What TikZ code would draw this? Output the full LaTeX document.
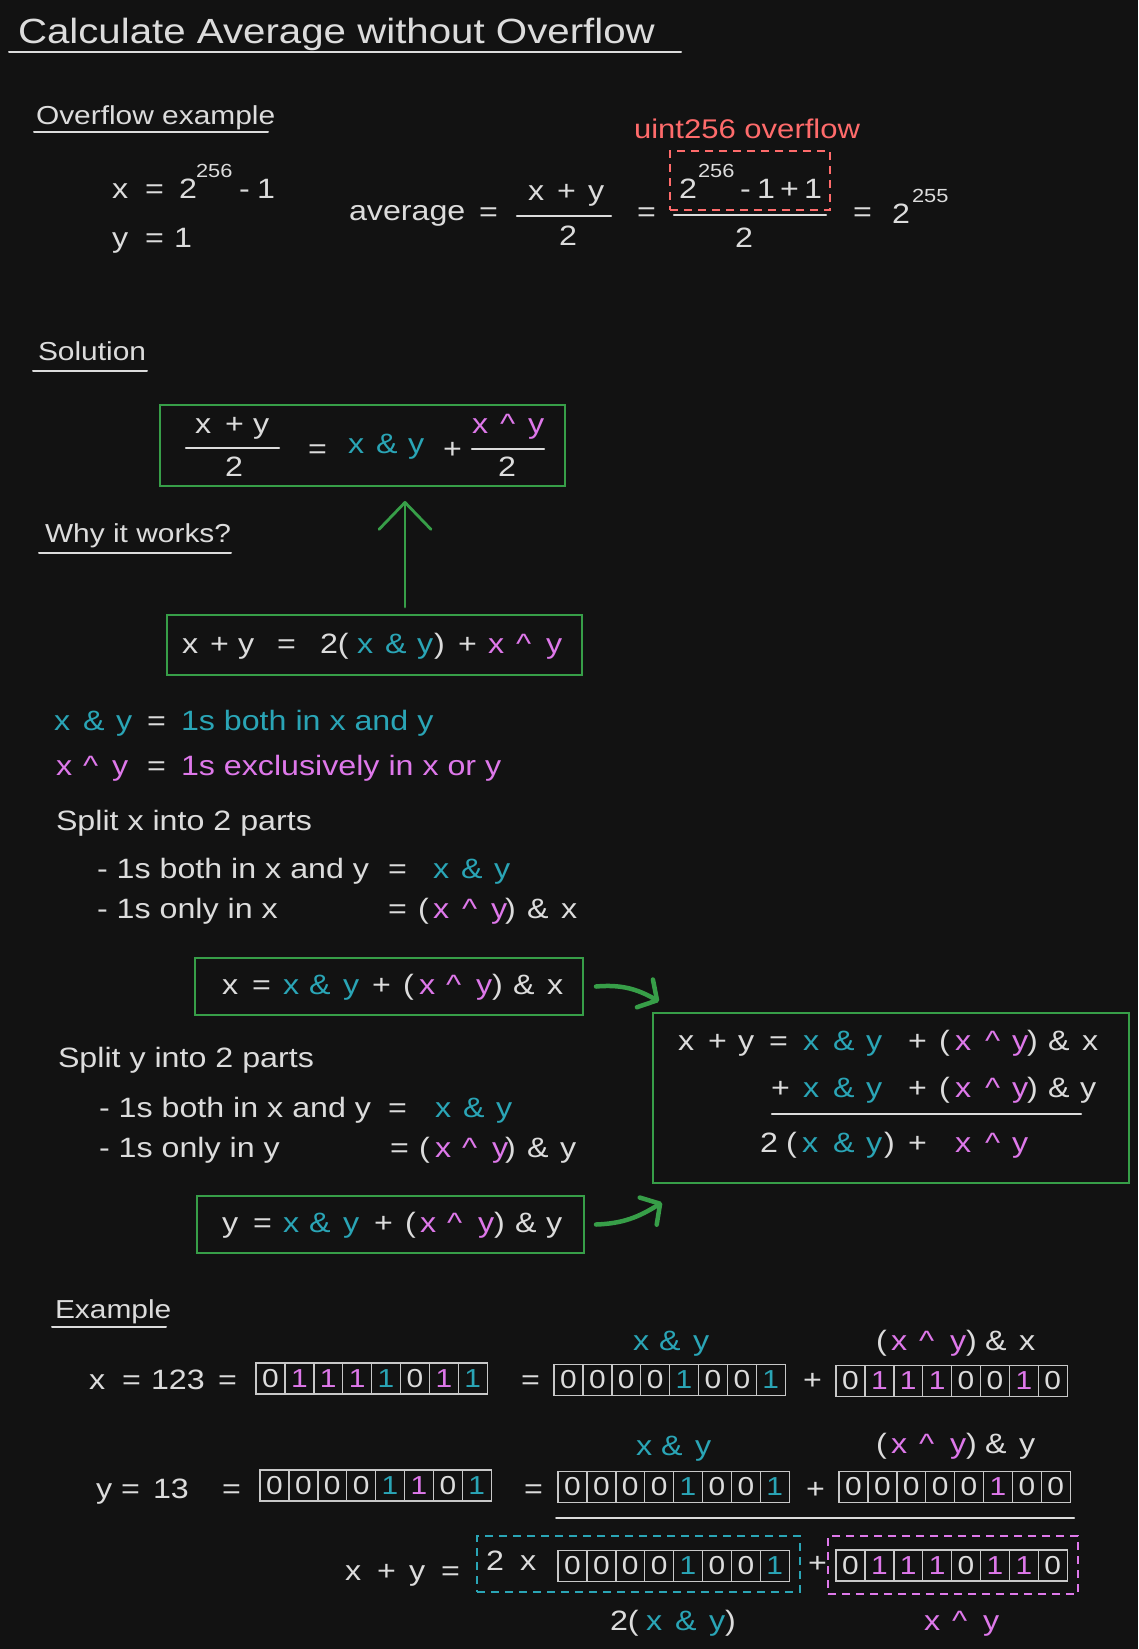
\documentclass[tikz,border=0pt]{standalone}
\usepackage{fontspec}
\setmainfont{Liberation Sans}[FakeStretch=1.15]
\usetikzlibrary{arrows.meta}

\definecolor{bg}{HTML}{121212}
\definecolor{fg}{HTML}{DCDCDC}
\definecolor{cy}{HTML}{2AA5B6}
\definecolor{pk}{HTML}{DE78EA}
\definecolor{rd}{HTML}{FF6B6B}
\definecolor{gn}{HTML}{379E48}
\definecolor{cellc}{HTML}{C8C8C8}

\newcommand{\fsz}[1]{\fontsize{#1}{#1}\selectfont}
\newcommand{\tpc}[5]{\node[#1] (#2) at (#3,#4) {#5};}
\newcommand{\xo}{\textasciicircum}
% one row of eight bit cells: name, left x, centre y, list digit/colour
\newcommand{\bitrow}[4]{%
  \foreach \b/\cc [count=\i] in {#4} {
    \node[cell, text=\cc] (#1-\i) at ({#2+(\i-0.5)*28.9},#3) {\b};
  }}

\tikzset{
  wtx/.style={anchor=base west, inner sep=0pt, outer sep=0pt, text=fg, font=\fsz{28}},
  ctx/.style={wtx, text=cy},
  ptx/.style={wtx, text=pk},
  sup/.style={wtx, font=\fsz{19}},
  head/.style={wtx, font=\fsz{26}},
  rule/.style={draw=fg, line width=2pt, line cap=round},
  bar/.style={draw=fg, line width=2.2pt, line cap=round},
  gbox/.style={draw=gn, line width=2pt, inner sep=0pt},
  rdash/.style={draw=rd, line width=2pt, dash pattern=on 8pt off 6pt, inner sep=0pt},
  cdash/.style={draw=cy, line width=2pt, dash pattern=on 8pt off 6pt, inner sep=0pt},
  pdash/.style={draw=pk, line width=2pt, dash pattern=on 8pt off 6pt, inner sep=0pt},
  cell/.style={draw=cellc, line width=1.4pt, minimum width=28.9pt, minimum height=31pt,
    inner sep=0pt, font=\fsz{26}},
  garrowv/.style={draw=gn, line width=2.8pt, line cap=round,
    -{Straight Barb[round, length=27pt, width=52pt]}},
  garc/.style={draw=gn, line width=4.5pt, line cap=round,
    -{Straight Barb[round, length=14pt, width=32pt]}},
}

\begin{document}
\begin{tikzpicture}[x=1pt, y=-1pt]
\fill[bg] (0,0) rectangle (1138,1649);
\useasboundingbox (0,0) rectangle (1138,1649);

% title
\tpc{wtx, font=\fsz{35}}{title}{18}{43}{Calculate Average without Overflow}
\draw[rule] (9,52) -- (681,52);

% overflow example
\tpc{head}{hOv}{36}{124}{Overflow example}
\draw[rule] (34,132) -- (268,132);
\tpc{wtx}{ovx}{112}{198}{x}
\tpc{wtx}{ovxeq}{145}{198}{=}
\tpc{wtx}{ovxtwo}{179}{198}{2}
\tpc{sup}{ovxexp}{196}{177}{256}
\tpc{wtx}{ovxmin}{239}{198}{-}
\tpc{wtx}{ovxone}{257}{198}{1}
\tpc{wtx}{ovy}{112}{247}{y}
\tpc{wtx}{ovyeq}{145}{247}{=}
\tpc{wtx}{ovyone}{174}{247}{1}

\tpc{wtx}{avg}{349}{220}{average}
\tpc{wtx}{avgeqA}{479}{221}{=}
\tpc{wtx}{fAx}{528}{200}{x}
\tpc{wtx}{fAplus}{557}{200}{+}
\tpc{wtx}{fAy}{588}{200}{y}
\draw[bar] (517,216) -- (611,216);
\tpc{wtx}{fAtwo}{559}{245}{2}
\tpc{wtx}{avgeqB}{637}{221}{=}
\node[rdash, minimum width=160pt, minimum height=59pt] (ovbox) at (750,180.5) {};
\tpc{wtx, text=rd, font=\fsz{27}}{ovlabel}{634}{138}{uint256 overflow}
\tpc{wtx}{fBtwo}{679}{198}{2}
\tpc{sup}{fBexp}{698}{177}{256}
\tpc{wtx}{fBmin}{740}{198}{-}
\tpc{wtx}{fBone}{757}{198}{1}
\tpc{wtx}{fBplus}{780}{198}{+}
\tpc{wtx}{fBoneB}{804}{198}{1}
\draw[bar] (674,215) -- (826,215);
\tpc{wtx}{fBden}{735}{247}{2}
\tpc{wtx}{avgeqC}{853}{221}{=}
\tpc{wtx}{resTwo}{892}{223}{2}
\tpc{sup}{resExp}{912}{202}{255}

% solution
\tpc{head}{hSol}{38}{360}{Solution}
\draw[rule] (33,371) -- (147,371);
\node[gbox, minimum width=405pt, minimum height=81pt] (sol) at (362.5,445.5) {};
\tpc{wtx}{sNx}{195}{433}{x}
\tpc{wtx}{sNplus}{225}{433}{+}
\tpc{wtx}{sNy}{253}{433}{y}
\draw[bar] (186,448) -- (279,448);
\tpc{wtx}{sNtwo}{225}{476}{2}
\tpc{wtx}{sEq}{308}{458}{=}
\tpc{ctx}{sAx}{348}{453}{x}
\tpc{ctx}{sAamp}{376}{453}{\&}
\tpc{ctx}{sAy}{408}{453}{y}
\tpc{wtx}{sPlus}{443}{458}{+}
\tpc{ptx}{sXx}{472}{433}{x}
\tpc{ptx}{sXc}{500}{433}{\xo}
\tpc{ptx}{sXy}{528}{433}{y}
\draw[bar] (472,449) -- (544,449);
\tpc{wtx}{sXtwo}{498}{476}{2}

% why it works
\tpc{head}{hWhy}{45}{542}{Why it works?}
\draw[rule] (39,553) -- (231,553);
\node[gbox, minimum width=415pt, minimum height=60pt] (xy) at (374.5,645) {};
\tpc{wtx}{qx}{182}{653}{x}
\tpc{wtx}{qplus}{210}{653}{+}
\tpc{wtx}{qy}{238}{653}{y}
\tpc{wtx}{qeq}{277}{653}{=}
\tpc{wtx}{qtwo}{320}{653}{2(}
\tpc{ctx}{qax}{357}{653}{x}
\tpc{ctx}{qaamp}{385}{653}{\&}
\tpc{ctx}{qay}{417}{653}{y}
\tpc{wtx}{qrp}{434}{653}{)}
\tpc{wtx}{qplusB}{458}{653}{+}
\tpc{ptx}{qxx}{488}{653}{x}
\tpc{ptx}{qxc}{516}{653}{\xo}
\tpc{ptx}{qxy}{546}{653}{y}
\draw[garrowv, shorten <=7pt, shorten >=14pt] ([xshift=30.5pt]xy.north) -- ([xshift=42.5pt]sol.south);

% meaning of the two operators
\tpc{ctx}{dAx}{54}{730}{x}
\tpc{ctx}{dAamp}{83}{730}{\&}
\tpc{ctx}{dAy}{116}{730}{y}
\tpc{wtx}{dAeq}{147}{730}{=}
\tpc{ctx}{dAtxt}{181}{730}{1s both in x and y}
\tpc{ptx}{dXx}{56}{775}{x}
\tpc{ptx}{dXc}{83}{775}{\xo}
\tpc{ptx}{dXy}{112}{775}{y}
\tpc{wtx}{dXeq}{147}{775}{=}
\tpc{ptx}{dXtxt}{181}{775}{1s exclusively in x or y}

% split x
\tpc{wtx}{spx}{56}{830}{Split x into 2 parts}
\tpc{wtx}{spxA}{97}{878}{- 1s both in x and y}
\tpc{wtx}{spxAeq}{388}{878}{=}
\tpc{ctx}{spxAx}{433}{878}{x}
\tpc{ctx}{spxAamp}{461}{878}{\&}
\tpc{ctx}{spxAy}{494}{878}{y}
\tpc{wtx}{spxB}{97}{918}{- 1s only in x}
\tpc{wtx}{spxBeq}{388}{918}{=}
\tpc{wtx}{spxBlp}{418}{918}{(}
\tpc{ptx}{spxBx}{433}{918}{x}
\tpc{ptx}{spxBc}{462}{918}{\xo}
\tpc{ptx}{spxBy}{491}{918}{y}
\tpc{wtx}{spxBrp}{505}{918}{)}
\tpc{wtx}{spxBamp}{527}{918}{\&}
\tpc{wtx}{spxBx2}{561}{918}{x}

\node[gbox, minimum width=388pt, minimum height=57pt] (xbox) at (389,986.5) {};
\tpc{wtx}{xbx}{222}{994}{x}
\tpc{wtx}{xbeq}{252}{994}{=}
\tpc{ctx}{xbax}{283}{994}{x}
\tpc{ctx}{xbaamp}{309}{994}{\&}
\tpc{ctx}{xbay}{343}{994}{y}
\tpc{wtx}{xbplus}{372}{994}{+}
\tpc{wtx}{xblp}{403}{994}{(}
\tpc{ptx}{xbxx}{419}{994}{x}
\tpc{ptx}{xbxc}{446}{994}{\xo}
\tpc{ptx}{xbxy}{476}{994}{y}
\tpc{wtx}{xbrp}{492}{994}{)}
\tpc{wtx}{xbamp}{513}{994}{\&}
\tpc{wtx}{xbx2}{547}{994}{x}

% split y
\tpc{wtx}{spy}{58}{1067}{Split y into 2 parts}
\tpc{wtx}{spyA}{99}{1117}{- 1s both in x and y}
\tpc{wtx}{spyAeq}{388}{1117}{=}
\tpc{ctx}{spyAx}{435}{1117}{x}
\tpc{ctx}{spyAamp}{463}{1117}{\&}
\tpc{ctx}{spyAy}{496}{1117}{y}
\tpc{wtx}{spyB}{99}{1157}{- 1s only in y}
\tpc{wtx}{spyBeq}{390}{1157}{=}
\tpc{wtx}{spyBlp}{419}{1157}{(}
\tpc{ptx}{spyBx}{435}{1157}{x}
\tpc{ptx}{spyBc}{462}{1157}{\xo}
\tpc{ptx}{spyBy}{492}{1157}{y}
\tpc{wtx}{spyBrp}{505}{1157}{)}
\tpc{wtx}{spyBamp}{527}{1157}{\&}
\tpc{wtx}{spyBy2}{560}{1157}{y}

\node[gbox, minimum width=387pt, minimum height=57pt] (ybox) at (390.5,1224.5) {};
\tpc{wtx}{ybx}{222}{1232}{y}
\tpc{wtx}{ybeq}{253}{1232}{=}
\tpc{ctx}{ybax}{283}{1232}{x}
\tpc{ctx}{ybaamp}{309}{1232}{\&}
\tpc{ctx}{ybay}{343}{1232}{y}
\tpc{wtx}{ybplus}{374}{1232}{+}
\tpc{wtx}{yblp}{405}{1232}{(}
\tpc{ptx}{ybxx}{420}{1232}{x}
\tpc{ptx}{ybxc}{447}{1232}{\xo}
\tpc{ptx}{ybxy}{478}{1232}{y}
\tpc{wtx}{ybrp}{494}{1232}{)}
\tpc{wtx}{ybamp}{515}{1232}{\&}
\tpc{wtx}{yby2}{546}{1232}{y}

% the sum of both splits
\node[gbox, minimum width=476pt, minimum height=170pt] (big) at (891,1097.5) {};
\tpc{wtx}{b1x}{678}{1050}{x}
\tpc{wtx}{b1plus}{708}{1050}{+}
\tpc{wtx}{b1y}{738}{1050}{y}
\tpc{wtx}{b1eq}{769}{1050}{=}
\tpc{ctx}{b1ax}{803}{1050}{x}
\tpc{ctx}{b1aamp}{833}{1050}{\&}
\tpc{ctx}{b1ay}{866}{1050}{y}
\tpc{wtx}{b1plusB}{908}{1050}{+}
\tpc{wtx}{b1lp}{939}{1050}{(}
\tpc{ptx}{b1xx}{955}{1050}{x}
\tpc{ptx}{b1xc}{985}{1050}{\xo}
\tpc{ptx}{b1xy}{1012}{1050}{y}
\tpc{wtx}{b1rp}{1027}{1050}{)}
\tpc{wtx}{b1amp}{1048}{1050}{\&}
\tpc{wtx}{b1x2}{1082}{1050}{x}

\tpc{wtx}{b2plus}{771}{1097}{+}
\tpc{ctx}{b2ax}{803}{1097}{x}
\tpc{ctx}{b2aamp}{833}{1097}{\&}
\tpc{ctx}{b2ay}{866}{1097}{y}
\tpc{wtx}{b2plusB}{908}{1097}{+}
\tpc{wtx}{b2lp}{939}{1097}{(}
\tpc{ptx}{b2xx}{955}{1097}{x}
\tpc{ptx}{b2xc}{985}{1097}{\xo}
\tpc{ptx}{b2xy}{1012}{1097}{y}
\tpc{wtx}{b2rp}{1027}{1097}{)}
\tpc{wtx}{b2amp}{1048}{1097}{\&}
\tpc{wtx}{b2y2}{1080}{1097}{y}
\draw[bar] (772,1114) -- (1081,1114);

\tpc{wtx}{b3two}{760}{1152}{2}
\tpc{wtx}{b3lp}{786}{1152}{(}
\tpc{ctx}{b3ax}{802}{1152}{x}
\tpc{ctx}{b3aamp}{833}{1152}{\&}
\tpc{ctx}{b3ay}{866}{1152}{y}
\tpc{wtx}{b3rp}{884}{1152}{)}
\tpc{wtx}{b3plus}{908}{1152}{+}
\tpc{ptx}{b3xx}{955}{1152}{x}
\tpc{ptx}{b3xc}{985}{1152}{\xo}
\tpc{ptx}{b3xy}{1012}{1152}{y}

\draw[garc] ([xshift=12pt]xbox.east) to[out=5, in=150] ([xshift=7pt, yshift=10pt]big.north west);
\draw[garc] ([xshift=11pt]ybox.east) to[out=2, in=212] ([xshift=10pt, yshift=-19pt]big.south west);

% worked example
\tpc{head}{hEx}{55}{1318}{Example}
\draw[rule] (52,1327) -- (166,1327);

\tpc{ctx}{lAx}{633}{1350}{x}
\tpc{ctx}{lAamp}{659}{1350}{\&}
\tpc{ctx}{lAy}{693}{1350}{y}
\tpc{wtx}{lBlp}{876}{1350}{(}
\tpc{ptx}{lBx}{891}{1350}{x}
\tpc{ptx}{lBc}{919}{1350}{\xo}
\tpc{ptx}{lBy}{950}{1350}{y}
\tpc{wtx}{lBrp}{966}{1350}{)}
\tpc{wtx}{lBamp}{985}{1350}{\&}
\tpc{wtx}{lBx2}{1019}{1350}{x}

\tpc{wtx}{rxx}{89}{1389}{x}
\tpc{wtx}{rxeq}{122}{1389}{=}
\tpc{wtx}{rxval}{151}{1389}{123}
\tpc{wtx}{rxeqB}{218}{1389}{=}
\bitrow{bxa}{256}{1378.5}{0/fg,1/pk,1/pk,1/pk,1/cy,0/fg,1/pk,1/cy}
\tpc{wtx}{rxeqC}{521}{1389}{=}
\bitrow{bxb}{554}{1380}{0/fg,0/fg,0/fg,0/fg,1/cy,0/fg,0/fg,1/cy}
\tpc{wtx}{rxplus}{803}{1389}{+}
\bitrow{bxc}{836}{1381}{0/fg,1/pk,1/pk,1/pk,0/fg,0/fg,1/pk,0/fg}

\tpc{ctx}{lCx}{636}{1455}{x}
\tpc{ctx}{lCamp}{661}{1455}{\&}
\tpc{ctx}{lCy}{695}{1455}{y}
\tpc{wtx}{lDlp}{876}{1453}{(}
\tpc{ptx}{lDx}{891}{1453}{x}
\tpc{ptx}{lDc}{919}{1453}{\xo}
\tpc{ptx}{lDy}{950}{1453}{y}
\tpc{wtx}{lDrp}{966}{1453}{)}
\tpc{wtx}{lDamp}{985}{1453}{\&}
\tpc{wtx}{lDy2}{1019}{1453}{y}

\tpc{wtx}{ryy}{96}{1498}{y}
\tpc{wtx}{ryeq}{121}{1498}{=}
\tpc{wtx}{ryval}{153}{1498}{13}
\tpc{wtx}{ryeqB}{222}{1498}{=}
\bitrow{bya}{260}{1485.5}{0/fg,0/fg,0/fg,0/fg,1/cy,1/pk,0/fg,1/cy}
\tpc{wtx}{ryeqC}{524}{1498}{=}
\bitrow{byb}{558}{1487}{0/fg,0/fg,0/fg,0/fg,1/cy,0/fg,0/fg,1/cy}
\tpc{wtx}{ryplus}{806}{1498}{+}
\bitrow{byc}{839}{1487}{0/fg,0/fg,0/fg,0/fg,0/fg,1/pk,0/fg,0/fg}
\draw[rule] (556,1518) -- (1074,1518);

\tpc{wtx}{rsx}{345}{1580}{x}
\tpc{wtx}{rsplus}{377}{1580}{+}
\tpc{wtx}{rsy}{409}{1580}{y}
\tpc{wtx}{rseq}{441}{1580}{=}
\node[cdash, minimum width=323pt, minimum height=56pt] (sumA) at (638.5,1564) {};
\tpc{wtx}{rstwo}{486}{1570}{2}
\tpc{wtx}{rstimes}{520}{1570}{x}
\bitrow{bsa}{558}{1566}{0/fg,0/fg,0/fg,0/fg,1/cy,0/fg,0/fg,1/cy}
\tpc{wtx}{rsplusB}{808}{1572}{+}
\node[pdash, minimum width=250pt, minimum height=58pt] (sumB) at (953,1565) {};
\bitrow{bsb}{836}{1565.5}{0/fg,1/pk,1/pk,1/pk,0/fg,1/pk,1/pk,0/fg}

\tpc{wtx}{uAtwo}{610}{1630}{2(}
\tpc{ctx}{uAx}{646}{1630}{x}
\tpc{ctx}{uAamp}{675}{1630}{\&}
\tpc{ctx}{uAy}{709}{1630}{y}
\tpc{wtx}{uArp}{725}{1630}{)}
\tpc{ptx}{uBx}{924}{1630}{x}
\tpc{ptx}{uBc}{952}{1630}{\xo}
\tpc{ptx}{uBy}{983}{1630}{y}
\end{tikzpicture}
\end{document}
